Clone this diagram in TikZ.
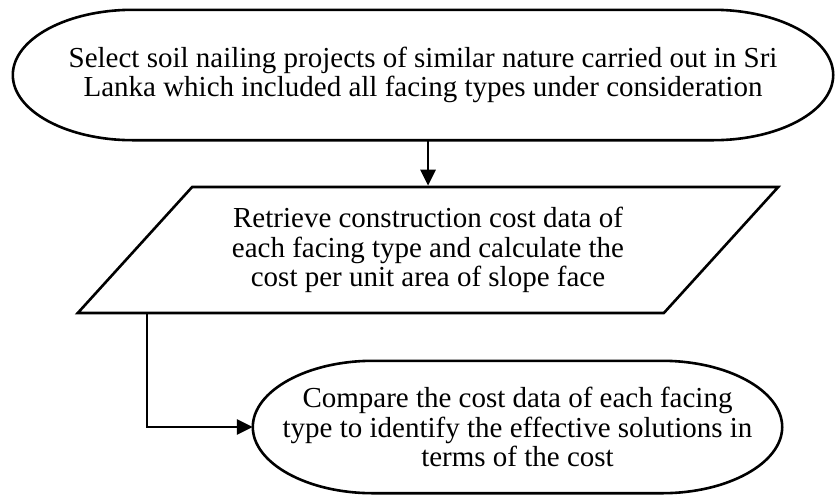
\documentclass[tikz,border=0pt]{standalone}
\usepackage{fontspec}
\setmainfont{Liberation Serif}
\usetikzlibrary{arrows.meta, shapes.geometric}

\begin{document}
\begin{tikzpicture}
  [
    x=1pt, y=-1pt,
    every node/.style={align=center, font=\fontsize{29}{29.5}\selectfont},
    terminal/.style={inner sep=0pt},
    inout/.style={trapezium, trapezium stretches=true,
      trapezium left angle=42, trapezium right angle=138,
      draw, line width=2.6pt, inner sep=0pt},
    outline/.style={draw, line width=2.6pt, line join=round},
    flow/.style={line width=2.6pt, -{Triangle[length=16pt, width=15pt]}}
  ]
  \useasboundingbox (0,0) rectangle (835,496);

  \node[terminal, minimum width=820pt, minimum height=130pt] (select) at (423,75)
    {Select soil nailing projects of similar nature carried out in Sri\\
     Lanka which included all facing types under consideration};
  \node[inout, minimum width=704pt, minimum height=126pt] (retrieve) at (428,250)
    {Retrieve construction cost data of\\
     each facing type and calculate the\\
     cost per unit area of slope face};
  \node[terminal, minimum width=529pt, minimum height=132pt] (compare) at (517.5,427)
    {Compare the cost data of each facing\\
     type to identify the effective solutions in\\
     terms of the cost};

  % terminator outlines
  \foreach \n in {select, compare}
    \draw[outline] ([xshift=120pt]\n.north west) -- ([xshift=-120pt]\n.north east)
      .. controls +(66,0) and +(0,-36) .. (\n.east)
      .. controls +(0,36) and +(66,0) .. ([xshift=-120pt]\n.south east)
      -- ([xshift=120pt]\n.south west)
      .. controls +(-66,0) and +(0,36) .. (\n.west)
      .. controls +(0,-36) and +(-66,0) .. ([xshift=120pt]\n.north west) -- cycle;

  \draw[flow] (retrieve.north |- select.south) -- (retrieve.north);
  \draw[flow] ([xshift=72pt]retrieve.bottom left corner) |- (compare.west);
\end{tikzpicture}
\end{document}
